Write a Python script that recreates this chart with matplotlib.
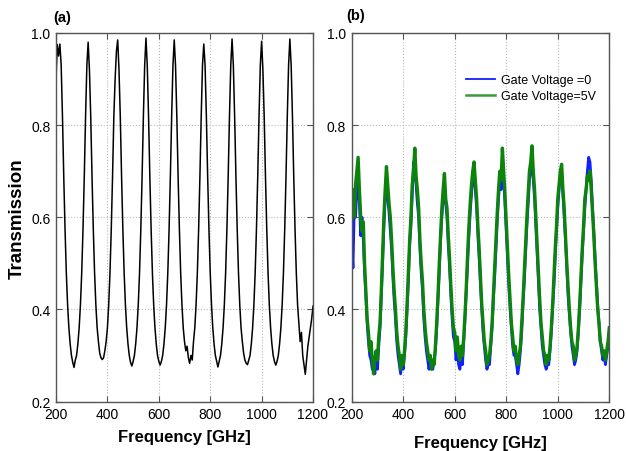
# -*- coding: utf-8 -*-
"""
Transmission spectra, panels (a) and (b)
"""

import numpy as np
import matplotlib
matplotlib.use('Agg')
import matplotlib.pyplot as plt

plt.rcParams['font.family'] = ['Liberation Sans', 'DejaVu Sans']

# frequency grid (GHz), 5 GHz steps
freq = np.arange(200, 1201, 5)

# panel (a): transmission
trans_a = [0.90, 0.975, 0.95, 0.976, 0.93, 0.82, 0.69, 0.575, 0.48, 0.41,
           0.36, 0.325, 0.30, 0.285, 0.274, 0.29, 0.30, 0.325, 0.36, 0.41,
           0.48, 0.575, 0.69, 0.82, 0.93, 0.98, 0.92, 0.82, 0.69, 0.575,
           0.48, 0.41, 0.36, 0.33, 0.305, 0.295, 0.291, 0.295, 0.31, 0.33,
           0.36, 0.41, 0.48, 0.575, 0.69, 0.82, 0.90, 0.96, 0.985, 0.92,
           0.82, 0.69, 0.575, 0.48, 0.41, 0.36, 0.325, 0.30, 0.285, 0.277,
           0.287, 0.30, 0.325, 0.36, 0.41, 0.48, 0.575, 0.69, 0.82, 0.93,
           0.989, 0.93, 0.82, 0.69, 0.575, 0.48, 0.41, 0.36, 0.325, 0.30,
           0.287, 0.279, 0.287, 0.30, 0.325, 0.36, 0.41, 0.48, 0.575, 0.69,
           0.82, 0.93, 0.985, 0.93, 0.82, 0.69, 0.575, 0.48, 0.41, 0.36,
           0.33, 0.31, 0.32, 0.295, 0.283, 0.30, 0.29, 0.33, 0.36, 0.41,
           0.48, 0.575, 0.69, 0.82, 0.93, 0.976, 0.93, 0.82, 0.69, 0.575,
           0.48, 0.41, 0.36, 0.325, 0.30, 0.287, 0.275, 0.287, 0.30, 0.325,
           0.36, 0.41, 0.48, 0.575, 0.69, 0.82, 0.93, 0.987, 0.93, 0.82,
           0.69, 0.575, 0.48, 0.41, 0.36, 0.33, 0.305, 0.29, 0.283, 0.28,
           0.29, 0.30, 0.325, 0.36, 0.41, 0.48, 0.575, 0.69, 0.82, 0.93,
           0.982, 0.92, 0.82, 0.69, 0.575, 0.48, 0.41, 0.36, 0.325, 0.30,
           0.287, 0.279, 0.287, 0.30, 0.325, 0.36, 0.41, 0.48, 0.575, 0.69,
           0.82, 0.93, 0.987, 0.93, 0.82, 0.69, 0.575, 0.48, 0.41, 0.37,
           0.33, 0.35, 0.30, 0.28, 0.259, 0.29, 0.32, 0.34, 0.36, 0.38,
           0.407]

# panel (b): gate voltage = 0
trans_b0 = [0.55, 0.49, 0.62, 0.60, 0.66, 0.69, 0.63, 0.56, 0.60, 0.55,
            0.48, 0.43, 0.37, 0.33, 0.30, 0.29, 0.27, 0.28, 0.26, 0.30,
            0.27, 0.32, 0.36, 0.43, 0.50, 0.58, 0.64, 0.69, 0.64, 0.61,
            0.57, 0.53, 0.47, 0.42, 0.38, 0.33, 0.30, 0.28, 0.26, 0.29,
            0.27, 0.30, 0.34, 0.40, 0.46, 0.54, 0.58, 0.65, 0.72, 0.70,
            0.67, 0.63, 0.60, 0.53, 0.48, 0.44, 0.38, 0.34, 0.31, 0.29,
            0.27, 0.29, 0.28, 0.27, 0.29, 0.31, 0.36, 0.42, 0.48, 0.55,
            0.60, 0.64, 0.67, 0.63, 0.60, 0.54, 0.49, 0.43, 0.38, 0.34,
            0.33, 0.29, 0.32, 0.28, 0.27, 0.30, 0.28, 0.33, 0.38, 0.44,
            0.50, 0.56, 0.61, 0.65, 0.68, 0.70, 0.66, 0.62, 0.56, 0.51,
            0.45, 0.40, 0.35, 0.32, 0.29, 0.27, 0.28, 0.28, 0.32, 0.36,
            0.42, 0.47, 0.53, 0.59, 0.64, 0.68, 0.66, 0.73, 0.68, 0.63,
            0.57, 0.51, 0.45, 0.40, 0.36, 0.32, 0.30, 0.30, 0.28, 0.26,
            0.28, 0.31, 0.35, 0.41, 0.46, 0.52, 0.58, 0.63, 0.68, 0.70,
            0.73, 0.68, 0.64, 0.58, 0.52, 0.46, 0.40, 0.36, 0.32, 0.30,
            0.28, 0.27, 0.28, 0.28, 0.31, 0.35, 0.40, 0.45, 0.51, 0.57,
            0.62, 0.66, 0.69, 0.70, 0.65, 0.60, 0.55, 0.49, 0.43, 0.39,
            0.35, 0.32, 0.30, 0.28, 0.29, 0.31, 0.35, 0.40, 0.46, 0.52,
            0.57, 0.62, 0.66, 0.70, 0.73, 0.72, 0.68, 0.62, 0.57, 0.51,
            0.46, 0.41, 0.37, 0.33, 0.31, 0.29, 0.30, 0.28, 0.30, 0.32,
            0.35]

# panel (b): gate voltage = 5 V
trans_b5 = [0.62, 0.66, 0.60, 0.67, 0.70, 0.73, 0.66, 0.60, 0.57, 0.59,
            0.50, 0.44, 0.38, 0.35, 0.31, 0.33, 0.29, 0.26, 0.29, 0.31,
            0.29, 0.34, 0.37, 0.44, 0.52, 0.60, 0.66, 0.71, 0.67, 0.63,
            0.60, 0.55, 0.49, 0.44, 0.40, 0.35, 0.32, 0.30, 0.27, 0.30,
            0.28, 0.31, 0.35, 0.41, 0.48, 0.55, 0.60, 0.67, 0.70, 0.75,
            0.69, 0.66, 0.62, 0.55, 0.50, 0.46, 0.40, 0.36, 0.33, 0.31,
            0.29, 0.30, 0.27, 0.29, 0.28, 0.32, 0.37, 0.43, 0.50, 0.56,
            0.62, 0.66, 0.695, 0.64, 0.62, 0.56, 0.51, 0.45, 0.40, 0.36,
            0.35, 0.31, 0.34, 0.30, 0.29, 0.32, 0.30, 0.34, 0.39, 0.45,
            0.52, 0.58, 0.63, 0.67, 0.70, 0.72, 0.68, 0.64, 0.58, 0.53,
            0.47, 0.41, 0.37, 0.33, 0.31, 0.28, 0.29, 0.30, 0.33, 0.37,
            0.43, 0.49, 0.55, 0.61, 0.66, 0.70, 0.68, 0.75, 0.70, 0.65,
            0.59, 0.53, 0.47, 0.42, 0.37, 0.34, 0.31, 0.32, 0.29, 0.28,
            0.30, 0.32, 0.37, 0.42, 0.48, 0.54, 0.60, 0.65, 0.70, 0.72,
            0.755, 0.70, 0.66, 0.60, 0.54, 0.48, 0.42, 0.37, 0.34, 0.31,
            0.30, 0.28, 0.30, 0.29, 0.32, 0.36, 0.41, 0.47, 0.53, 0.58,
            0.64, 0.67, 0.70, 0.715, 0.66, 0.62, 0.56, 0.50, 0.45, 0.40,
            0.36, 0.33, 0.32, 0.29, 0.30, 0.32, 0.36, 0.41, 0.47, 0.53,
            0.58, 0.64, 0.66, 0.69, 0.68, 0.70, 0.66, 0.61, 0.56, 0.50,
            0.45, 0.40, 0.37, 0.33, 0.32, 0.30, 0.31, 0.29, 0.31, 0.33,
            0.36]

xticks_list = np.arange(200, 1201, 200)
yticks_list = [0.2, 0.4, 0.6, 0.8, 1.0]

fig = plt.figure(figsize=(6.26, 4.52), dpi=100)
ax1 = fig.add_axes([0.0895, 0.1095, 0.4105, 0.8153])
ax2 = fig.add_axes([0.5618, 0.1095, 0.4115, 0.8153])

for ax in [ax1, ax2]:
    ax.set_xlim(200, 1200)
    ax.set_ylim(0.2, 1.0)
    ax.set_xticks(xticks_list)
    ax.set_yticks(yticks_list)
    ax.set_yticklabels(['%.1f' % v for v in yticks_list])
    ax.grid(True, linestyle=':', color='#b8b8b8', linewidth=0.8)
    ax.tick_params(direction='in', top=True, right=True, length=4,
                   width=0.8, labelsize=10, pad=4, color='#555555')
    for sp in ax.spines.values():
        sp.set_color('#555555')
        sp.set_linewidth(1.0)

ax1.plot(freq, trans_a, color='k', linewidth=1.1)
ax1.set_xlabel('Frequency [GHz]', fontsize=12, fontweight='bold', labelpad=6)
ax1.set_ylabel('Transmission', fontsize=13.5, fontweight='bold', labelpad=4)
ax1.text(-0.01, 1.025, '(a)', transform=ax1.transAxes, fontsize=10.5,
         fontweight='bold', ha='left', va='bottom')

ax2.plot(freq, trans_b0, color='#1020ff', linewidth=2.0, label='Gate Voltage =0')
ax2.plot(freq, trans_b5, color='#0c840c', linewidth=2.4, label='Gate Voltage=5V')
ax2.set_xlabel('Frequency [GHz]', fontsize=12, fontweight='bold', labelpad=10)
ax2.text(-0.02, 1.03, '(b)', transform=ax2.transAxes, fontsize=10.5,
         fontweight='bold', ha='left', va='bottom')
leg = ax2.legend(loc='upper left', bbox_to_anchor=(0.444, 0.888), frameon=False,
                 fontsize=9, handlelength=2.3, handletextpad=0.5,
                 labelspacing=0.3, borderpad=0, borderaxespad=0)
leg.get_lines()[0].set_linewidth(1.3)
leg.get_lines()[1].set_linewidth(1.8)
leg.get_lines()[1].set_color('#3a9a3a')

plt.savefig('out.png', dpi=100)
